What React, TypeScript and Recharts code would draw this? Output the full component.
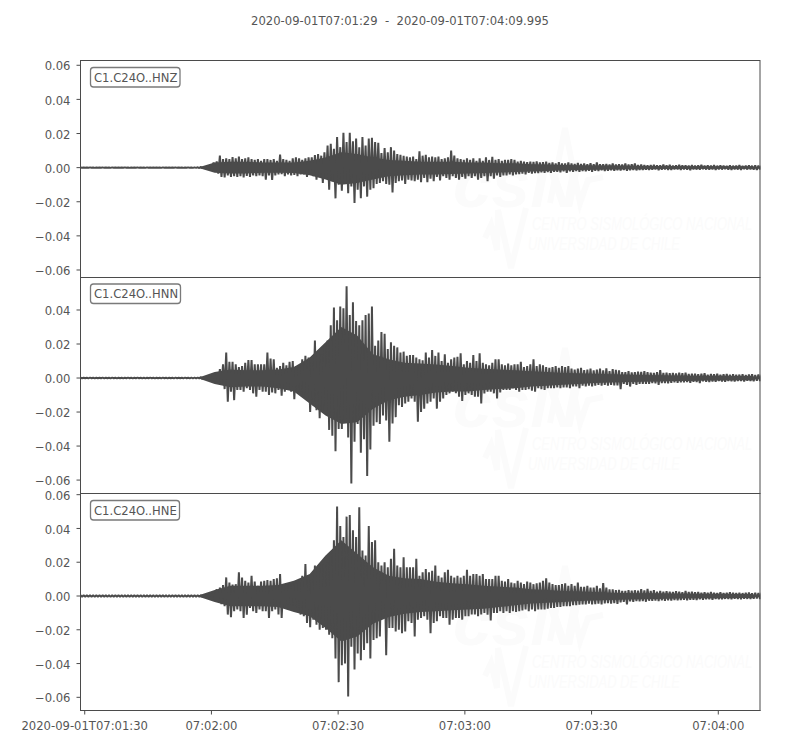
import React from "react";
import { ComposedChart, Area, Line, XAxis, YAxis } from "recharts";

const title = "2020-09-01T07:01:29  -  2020-09-01T07:04:09.995";
const stationLabels = ["C1.C24O..HNZ", "C1.C24O..HNN", "C1.C24O..HNE"];
const timeTicks = [1, 31, 61, 91, 121, 151];
const timeLabels = ["2020-09-01T07:01:30", "07:02:00", "07:02:30", "07:03:00", "07:03:30", "07:04:00"];
const yTicksZ = [0.06, 0.04, 0.02, 0, -0.02, -0.04, -0.06];
const yTicksN = [0.04, 0.02, 0, -0.02, -0.04, -0.06];
const yTicksE = [0.06, 0.04, 0.02, 0, -0.02, -0.04, -0.06];

// Peak amplitudes in 1e-3 units: pre-event noise, 0.75 s apart
const quietZUp = [.1,.12,.1,.15,.1,.1,.12,.15,.1,.1,.15,.12,.1,.1,.15,.1,.12,.1,.15,.1,.12,.15,.1,.1,.12,.1,.15,.1,.1,.12,.15,.1,.12,.1,.15,.12,.15,.2];
const quietZDown = [.1,.1,.12,.1,.15,.1,.1,.12,.1,.15,.1,.1,.12,.1,.1,.15,.1,.1,.12,.1,.15,.1,.1,.12,.1,.15,.1,.12,.1,.1,.12,.1,.15,.1,.12,.15,.12,.2];
const quietNUp = [.15,.18,.15,.2,.15,.18,.15,.2,.18,.15,.2,.15,.18,.15,.15,.2,.15,.18,.2,.15,.15,.18,.2,.15,.18,.15,.2,.15,.18,.15,.2,.18,.15,.2,.18,.2,.2,.3];
const quietNDown = [.15,.15,.18,.15,.2,.15,.15,.18,.15,.2,.15,.18,.15,.2,.15,.15,.18,.15,.15,.2,.18,.15,.15,.2,.15,.18,.15,.2,.15,.18,.15,.15,.2,.15,.18,.18,.2,.3];
const quietEUp = [.4,.45,.4,.5,.4,.45,.4,.5,.45,.4,.5,.4,.45,.4,.4,.5,.4,.45,.5,.4,.4,.45,.5,.4,.45,.4,.5,.4,.45,.4,.5,.45,.4,.5,.45,.4,.45,.4];
const quietEDown = [.4,.4,.45,.4,.5,.4,.4,.45,.4,.5,.4,.45,.4,.5,.4,.4,.45,.4,.4,.5,.45,.4,.4,.5,.4,.45,.4,.5,.4,.45,.4,.4,.5,.4,.45,.4,.4,.4];

// Peak amplitudes in 1e-3 units from 28 s after the start, 0.75 s apart
const hnzUp = [
  .4,.5,.8,1.7,3,3.7,7,5,5.5,5,
  6.2,5.5,6.5,5,5.5,6,5,4.5,5,4,
  5,5,4.5,5,4,7.6,5,4.5,4,5.5,
  6,5.5,4.5,5.5,6,6,7.4,8,7,9,
  13,14,11,18,12,20.4,15,20.4,15.5,17,
  12,18,13,17,17.5,15,14.5,8.5,11.5,9,
  12,10,8,7.5,7,6.5,6,6.5,5,9.6,
  7,7.5,6,6.5,6,6.5,5,5.5,6,10,
  7,5.5,5,4.5,5.5,4.5,5.5,4,5.5,4,
  6,4.5,6.3,4.5,5,4,4.5,4.5,5,4.5,
  3.5,4,3.5,3.2,3.5,3.4,3.6,3,3.2,3.5,
  2.8,3,2.5,3.2,2.5,2.5,3,2.5,2.2,2.8,
  2.2,2.5,2,2.6,2,3,2,2,2.2,1.8,
  2.4,1.8,2,1.8,2.4,1.8,2,2.4,1.5,1.8,
  1.5,1.3,1.5,1.6,1.4,1.3,1.8,1.4,1.6,1.2,
  1.4,1.7,1.3,1.4,1.2,1.5,1.2,1.3,1.6,1.1,
  1.3,1.2,1.5,1.1,1.3,1.2,1,1.4,1.1,1.2,
  1.5,1,1.2,1.3,1.1,1.4,1.2,1.1,
];
const hnzDown = [
  .4,.5,.8,1.5,2.5,3.5,5.5,5.8,4.5,5.5,
  5,5.5,5,5.7,4.8,5.5,4.5,5,4.5,5,
  7,4.5,7.2,4.5,4,3.8,5,4,4.5,4.2,
  5,4,4,5.5,4,5,7,5.5,9,6.5,
  13,8,18,10,13.5,9,15,11,20.7,13,
  18,11,17,13,12,9.5,9,8,9.5,10,
  14.5,9,8,7.5,9.5,7,7.5,8,7,8.5,
  6,8.5,6.5,8,5.5,7.5,5,6,7,5,
  6,7,5.5,6.5,5,6,5,7,6,5,
  8,5,6.5,4.5,5.5,4.5,4.5,4,4.5,4,
  3.8,3.5,4,3,3.5,3.2,3.2,2.8,3,2.6,
  3,2.5,2.5,2.8,2.2,3,2.2,2.4,2,2.5,
  2,2.2,1.8,2.4,1.9,2,1.6,2,1.8,1.5,
  1.8,1.5,1.7,1.4,1.9,1.5,1.4,1.6,1.3,1.4,
  1.2,1.4,1.2,1.1,1.5,1.2,1.1,1.3,1.4,1,
  1.1,1.3,1,1.2,1.5,1,1.1,1.2,.9,1.1,
  1.2,1,1.4,1,1.1,.9,1.2,1.3,1,1.1,
  1.3,.9,1.1,1,1.2,1.4,1,1.1,
];
const hnnUp = [
  .6,.8,.9,1.6,2.7,3.5,5.3,8,15,9.6,
  9.6,8,6.5,7,9,10.6,10.5,8,8,8,
  8,15,11.5,11,6,7,9,7.5,9.5,10,
  7,6,11,13,12,10,22,16,14,19,
  22,31,41.5,34,42,41,54,37,44.5,33.5,
  31,34,37,38,42,19,22,27,26,17,
  21,19,18,15,15.5,13,13.5,13.5,12,11,
  10.5,15,12,16.5,13,15,10,14,9,11,
  12,12.5,14.5,8,10,9,13.5,10,14.5,9,
  8,7.5,9,11,11,8,7.5,8.5,7.5,8,
  8,9.6,6.5,7,8,11,7,8,7.5,6.5,
  6,6.5,7,6,7,6.5,7,5.5,5,5.5,
  6,4.7,5,5.5,4.5,5,5.5,4.5,5.7,4,
  5.2,4.8,4.5,3.5,3.5,4,3.3,3.5,3.8,3.6,
  4,3.5,3.2,3,3.4,4.7,3,3.2,2.8,3,
  2.7,3.2,2.8,3.2,2.4,2.5,2.6,2.2,2.5,2.8,
  2,2.4,2.2,2.5,2,2.2,2.4,2,2.3,1.9,
  2,2.2,1.8,2,2.2,1.8,2,1.9,
];
const hnnDown = [
  .6,.8,.8,1.3,2,2.8,4,6.5,14,8,
  13,7,7,8,6,7,9,11,7,8,
  8,10,8.5,9,7,10.4,8,7,8,12.5,
  8,8,10,9,20,16,19,23.7,19,19,
  30.5,34,43,30,30,26,35,62,37.5,27,
  44,36,57.6,42,28,26,27,22,25,37.5,
  26.7,23,16,17,15,14,12,14,25.7,20,
  18,15,14,12,18,14,12,10,9,8,
  9,11,13.5,10,9,10,11,11,15,9,
  8,8,9,12,8.5,7,7,7,6,7,
  8,7,7,6.5,7.5,8,6,6.5,7,6,
  6,6,5.5,6,5.5,5.5,6,5,5,6,
  4.5,5,4.5,5,4.5,4,4.5,4,4.5,4,
  4.3,4.4,6.5,3.5,4,5,3.5,4,3.5,3.5,
  3.5,3.5,3,3.2,4,3,3,3.2,2.8,2.6,
  2.8,2.5,2.6,2.4,2.8,2.3,2.4,3,2,2.2,
  2.4,2,2.2,1.8,2,2.2,1.8,1.9,2,1.7,
  1.8,2,1.6,1.7,1.9,1.6,1.7,1.6,
];
const hneUp = [
  .5,.7,.8,1.5,2.6,4,5,6.5,11,8,
  6.8,7,14,11,9,8,12,8.5,6,8.5,
  9,9.5,9,10,10.5,13,6.5,7,7,7.5,
  8,9,12,19,10,10,18,18,18.5,19,
  20,25,33,53,41.5,35,47,48,39,35,
  52.5,27,24,41.5,32,33,20,18,20,17,
  22,28,18,17,23,17,17,17,22,12,
  14,16,14,15,18,12,11,14,15.5,12,
  11,12,11,12,15.5,12,13,13,12,13,
  10,10,10,12,12,9,8.5,10,8,7.5,
  9,8,7,8.5,8,7,7.5,8,9,10.5,
  8,7,6.5,6.5,7,7.5,6,7,6,8,
  5.5,5.5,6,5,5,6,4.5,7.7,5,4,
  4,3.5,3.6,3,3,3.5,3.2,3.4,3.2,4,
  3.3,4.2,3,3.5,2.6,3,2.5,2.8,2.6,2.4,
  2.8,2.6,2.2,3,2.4,2.6,2.2,2.4,2,2.2,
  1.9,2.4,2,1.8,2.2,1.8,2,2.3,1.9,1.8,
  2,1.7,1.9,2.1,1.6,1.9,1.8,1.9,
];
const hneDown = [
  .5,.7,.8,1.4,2.6,3.5,4.8,6,11,12.5,
  9,8,9,13,11,7,9,10,8,9,
  9,13,9,8,11,13,6,5,5.5,6,
  7,11,12,16,18.5,14,17,20,19,20,
  23,25,37,51,41,40,59.5,30,43.5,34,
  38,32,28,37,26,25,24,9,35,19,
  19,21,20,22,21,15,16,24,14,13,
  12,14,22,16,15,12,13,13,17,14,
  13,13,14,12,12,11,11,12,11,10,
  11,14.5,10,10,9,10,9,10,9,9.5,
  9,8.5,8,9,8,9,8,8,8,7.5,
  7,7,6.5,6.5,6,6,6,5.5,5.5,5.2,
  5,5,4.6,5,4.8,4.5,5,4.4,4.2,4.5,
  4.2,4.6,3.8,3.4,5,3.2,3.4,3,3.2,3,
  3.4,2.8,2.9,2.7,3,2.6,2.8,2.5,2.7,2.4,
  2.6,2.4,2.2,2.5,2.2,2.3,2.4,2,2.2,1.9,
  2,2.2,1.8,1.9,2,1.7,1.8,2,1.6,1.8,
  1.9,1.6,1.7,1.8,1.6,1.5,1.7,1.6,
];

// Extent of the solid dark body in 1e-3 units from 28 s after the start, 3.75 s apart
const coreZUp = [.2,3,3.5,3.5,3,3,3,4,6,9,8,6,4.5,4,3.5,3.5,3.5,3,3,2.5,2.5,2,1.8,1.6,1.4,1.3,1.2,1.1,1,.9,.9,.8,.8,.8,.8,.8];
const coreZDown = [.2,3,3.5,3.5,3,3,3.2,4.5,7,10,9,7,5,4.5,4,4,3.8,3.4,3.2,2.8,2.6,2.2,1.9,1.6,1.4,1.2,1.1,1,.9,.8,.8,.8,.7,.7,.7,.7];
const coreNUp = [.3,3.5,5,4.5,4.5,5,6.5,12,21,30,25,14,11,9,8.5,8,7,6,5.5,5,4.5,4,3.5,3,2.8,2.5,2.2,2,1.8,1.6,1.5,1.4,1.3,1.3,1.2,1.2];
const coreNDown = [.3,3.5,5.5,5,5,6,8,15,22,27,26,18,13,11,10,8.5,8,8,7,6.5,6,5,4.5,4,3.5,3,2.7,2.4,2.2,2,1.8,1.7,1.5,1.4,1.3,1.3];
const coreEUp = [.5,3.5,6,6,6,6.5,9,13,24,33,25,17,12,10.5,10,8.5,7.5,7,6,5.5,5,4,3.5,3,2.7,2.3,2,1.8,1.7,1.6,1.5,1.4,1.3,1.3,1.2,1.2];
const coreEDown = [.5,3.5,6,6,6,6.5,9.5,12,19,27,24,16.5,12.5,10.5,9.5,9,8.5,8,7.5,6.5,5.5,4.5,4,3.5,3,2.6,2.3,2.1,1.9,1.7,1.5,1.4,1.4,1.3,1.2,1.2];

const STEP = 0.75;
const CORE_START = 28;
const CORE_STEP = 3.75;
const T_END = 160.995;

const buildTrace = (qUp: number[], qDown: number[], up: number[], down: number[], cUp: number[], cDown: number[]) => {
  const highs = [...qUp, ...up];
  const lows = [...qDown, ...down];
  const rows: { t: number; v?: number; core?: [number, number] }[] = [];
  highs.forEach((h, i) => {
    rows.push({ t: i * STEP, v: h / 1000 });
    rows.push({ t: i * STEP + STEP / 2, v: -lows[i] / 1000 });
  });
  cUp.forEach((h, k) => {
    rows.push({ t: CORE_START + k * CORE_STEP + 0.01, core: [-cDown[k] / 1000, h / 1000] });
  });
  return rows.sort((a, b) => a.t - b.t);
};

const traceZ = buildTrace(quietZUp, quietZDown, hnzUp, hnzDown, coreZUp, coreZDown);
const traceN = buildTrace(quietNUp, quietNDown, hnnUp, hnnDown, coreNUp, coreNDown);
const traceE = buildTrace(quietEUp, quietEDown, hneUp, hneDown, coreEUp, coreEDown);

const INK = "#4b4b4b";
const TEXT = "#555555";
const FONT = "'DejaVu Sans', sans-serif";
const FONT_SIZE = 11.6;
const LEFT = 80;

const fmtY = (v: number) => (v < 0 ? "\u2212" : "") + Math.abs(v).toFixed(2);
const fmtT = (v: number) => timeLabels[timeTicks.indexOf(v)] ?? "";

const Panel = ({ data, top, bottom, domain, ticks, showTime }: any) => (
  <div style={{ position: "absolute", left: 0, top: 0 }}>
    <ComposedChart
      width={800}
      height={750}
      data={data}
      margin={{ top, bottom: 750 - bottom - (showTime ? 30 : 0), left: 0.5, right: 39.5 }}
    >
      <XAxis
        dataKey="t"
        type="number"
        domain={[0, T_END]}
        allowDataOverflow
        ticks={showTime ? timeTicks : []}
        interval={0}
        height={showTime ? 30 : 0}
        tick={showTime ? { fontSize: FONT_SIZE, fill: TEXT, fontFamily: FONT } : false}
        tickFormatter={fmtT}
        tickSize={4}
        tickMargin={7}
        stroke={INK}
        tickLine={showTime ? { stroke: INK } : false}
        axisLine={{ stroke: INK }}
      />
      <YAxis
        type="number"
        domain={domain}
        allowDataOverflow
        ticks={ticks}
        interval={0}
        width={LEFT}
        tick={{ fontSize: FONT_SIZE, fill: TEXT, fontFamily: FONT, dy: 1 }}
        tickFormatter={fmtY}
        tickSize={4}
        tickMargin={6}
        tickLine={{ stroke: INK }}
        axisLine={{ stroke: INK }}
      />
      <Area dataKey="core" type="linear" fill={INK} fillOpacity={1} stroke="none" connectNulls dot={false} activeDot={false} isAnimationActive={false} />
      <Line dataKey="v" type="linear" stroke={INK} strokeWidth={2} strokeLinejoin="bevel" connectNulls dot={false} activeDot={false} isAnimationActive={false} />
    </ComposedChart>
  </div>
);

const MARK = "#fbfbfb";
const Watermark = ({ dy }: { dy: number }) => (
  <g transform={`translate(0 ${dy})`} fill={MARK} stroke="none">
    <text transform="translate(453 207) scale(1.02 1)" fontFamily="'Liberation Sans'" fontWeight="bold" fontStyle="italic" fontSize={68}>csN</text>
    <polyline points="550,203 565,128 580,203 588,180 603,177" fill="none" stroke={MARK} strokeWidth={6} />
    <polyline points="485,238 491,225 497,250 498,210 511,268 526,208" fill="none" stroke={MARK} strokeWidth={6} />
    <text transform="translate(532 230) scale(0.72 1)" fontFamily="'Liberation Sans'" fontStyle="italic" fontSize={18}>CENTRO SISMOLÓGICO NACIONAL</text>
    <text transform="translate(528 250) scale(0.72 1)" fontFamily="'Liberation Sans'" fontStyle="italic" fontSize={18}>UNIVERSIDAD DE CHILE</text>
  </g>
);

const Badge = ({ y, width, text }: { y: number; width: number; text: string }) => (
  <g>
    <rect x={90.5} y={y} width={width} height={19.5} rx={3} ry={3} fill="#ffffff" stroke="#7a7a7a" strokeWidth={1.3} />
    <text x={94} y={y + 14} fontFamily={FONT} fontSize={FONT_SIZE} fill={TEXT}>{text}</text>
  </g>
);

const frames = [
  [60.5, 217],
  [277.5, 216],
  [493.5, 217],
];

export default function App() {
  return (
    <div style={{ position: "absolute", left: 0, top: 0, width: 800, height: 750, background: "#ffffff", overflow: "hidden" }}>
      <svg width={800} height={750} style={{ position: "absolute", left: 0, top: 0 }}>
        <Watermark dy={0} />
        <Watermark dy={220} />
        <Watermark dy={438} />
      </svg>
      <Panel data={traceZ} top={60.5} bottom={277.5} domain={[-0.0644, 0.0628]} ticks={yTicksZ} showTime={false} />
      <Panel data={traceN} top={277.5} bottom={493.5} domain={[-0.0679, 0.0591]} ticks={yTicksN} showTime={false} />
      <Panel data={traceE} top={493.5} bottom={710.5} domain={[-0.0678, 0.0607]} ticks={yTicksE} showTime />
      <svg width={800} height={750} style={{ position: "absolute", left: 0, top: 0, pointerEvents: "none" }}>
        {frames.map(([y, h]) => (
          <rect key={y} x={80.5} y={y} width={679.5} height={h} fill="none" stroke={INK} strokeWidth={1} />
        ))}
        <text x={400} y={25} textAnchor="middle" fontFamily={FONT} fontSize={FONT_SIZE} fill={TEXT} xmlSpace="preserve">{title}</text>
        <Badge y={67.5} width={89.5} text={stationLabels[0]} />
        <Badge y={284} width={90} text={stationLabels[1]} />
        <Badge y={500.5} width={89} text={stationLabels[2]} />
      </svg>
    </div>
  );
}
